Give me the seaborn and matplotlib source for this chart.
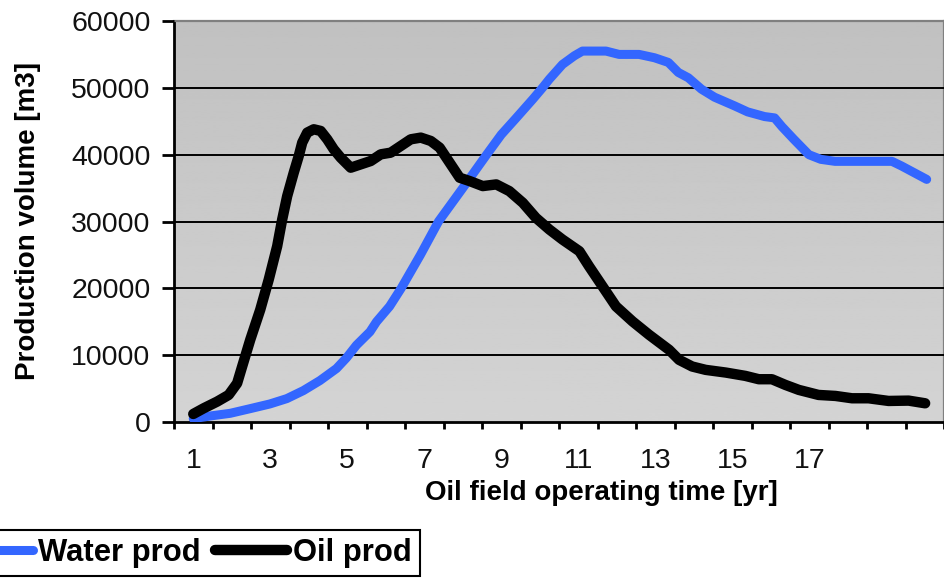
import numpy as np
import pandas as pd
import matplotlib
matplotlib.use("Agg")
import matplotlib.pyplot as plt
import seaborn as sns
from matplotlib.lines import Line2D

# ---------------- data ----------------
water_years = [1.0, 1.44, 1.96, 2.48, 2.99, 3.43, 3.86, 4.29, 4.72, 4.98, 5.24, 5.59, 5.76,
               6.10, 6.40, 6.90, 7.37, 8.00, 8.62, 9.00, 9.39, 9.82, 10.07, 10.25, 10.59,
               10.90, 11.11, 11.72, 12.06, 12.58, 12.98, 13.34, 13.60, 13.86, 14.20, 14.54,
               15.06, 15.40, 15.84, 16.10, 16.29, 16.60, 16.99, 17.30, 17.67, 19.15, 19.40,
               20.05]
water_prod = [500, 900, 1300, 2000, 2700, 3500, 4700, 6200, 8000, 9600, 11500, 13500, 15000,
              17300, 20000, 25000, 30000, 35000, 40000, 43000, 45500, 48300, 50000, 51300, 53500,
              54800, 55500, 55500, 55000, 55000, 54500, 53800, 52300, 51500, 49800, 48600,
              47300, 46400, 45700, 45500, 44200, 42300, 40000, 39300, 39000, 39000, 38300,
              36300]

oil_years = [1.0, 1.27, 1.62, 1.92, 2.14, 2.27, 2.48, 2.74, 2.96, 3.18, 3.31, 3.44, 3.61,
             3.74, 3.83, 3.96, 4.13, 4.31, 4.48, 4.65, 4.83, 5.09, 5.35, 5.61, 5.87, 6.13,
             6.39, 6.65, 6.91, 7.17, 7.40, 7.66, 7.92, 8.18, 8.52, 8.87, 9.21, 9.56, 9.90,
             10.25, 10.59, 11.03, 11.28, 11.63, 11.98, 12.41, 12.84, 13.36, 13.62, 13.96,
             14.31, 14.83, 15.34, 15.69, 16.03, 16.38, 16.73, 17.24, 17.68, 18.11, 18.54,
             19.06, 19.58, 20.01]
oil_prod = [1200, 2050, 3050, 4050, 5800, 8300, 12300, 16800, 21300, 26300, 30300, 33800, 37300,
            39800, 41800, 43300, 43800, 43550, 42300, 40800, 39550, 38050, 38550, 39050, 40050, 40300,
            41300, 42300, 42550, 42050, 41050, 38800, 36550, 36050, 35300, 35550, 34550, 32800, 30550,
            28800, 27300, 25550, 23300, 20300, 17300, 15050, 13050, 10800, 9300, 8300,
            7800, 7400, 6900, 6400, 6400, 5550, 4800, 4050, 3900, 3550, 3550,
            3150, 3200, 2800]

year_labels = [1, 3, 5, 7, 9, 11, 13, 15, 17]
y_ticks = [0, 10000, 20000, 30000, 40000, 50000, 60000]
series_names = ["Water prod", "Oil prod"]
series_colors = ["#3366ff", "#000000"]

# ---------------- style ----------------
sns.set_theme(style="white")
plt.rcParams["font.family"] = ["Liberation Sans", "DejaVu Sans"]
plt.rcParams["text.color"] = "black"
plt.rcParams["axes.labelcolor"] = "black"
plt.rcParams["xtick.color"] = "black"
plt.rcParams["ytick.color"] = "black"

W, H = 945, 579
fig = plt.figure(figsize=(W / 100, H / 100), dpi=100)
ax = fig.add_axes([174 / W, 1 - 422 / H, 770 / W, 401 / H])

# gradient background of plot area
grad = np.linspace(0.755, 0.83, 256).reshape(-1, 1)
ax.imshow(grad, cmap="gray", vmin=0, vmax=1, aspect="auto", origin="upper",
          extent=[0, 1, 0, 1], transform=ax.transAxes, zorder=0)

df = pd.concat([
    pd.DataFrame({"year": water_years, "volume": water_prod, "series": series_names[0]}),
    pd.DataFrame({"year": oil_years, "volume": oil_prod, "series": series_names[1]}),
])

lws = [6.5, 7.5]
sns.lineplot(data=df[df.series == series_names[0]], x="year", y="volume", ax=ax,
             color=series_colors[0], lw=lws[0], sort=False, estimator=None,
             solid_capstyle="round", solid_joinstyle="round", zorder=3, legend=False)
sns.lineplot(data=df[df.series == series_names[1]], x="year", y="volume", ax=ax,
             color=series_colors[1], lw=lws[1], sort=False, estimator=None,
             solid_capstyle="round", solid_joinstyle="round", zorder=4, legend=False)

ax.set_xlim(0.5, 20.45)
ax.set_ylim(0, 60000)

# y axis
ax.set_yticks(y_ticks)
ax.set_yticklabels([str(v) for v in y_ticks])
ax.tick_params(axis="y", which="major", direction="out", length=8.5, width=2.0,
               color="black", pad=8.4, labelsize=20.5, left=True, labelcolor="#111111")
ax.yaxis.grid(True, color="black", lw=1.4)
gl = ax.get_ygridlines()
gl[0].set_visible(False)
gl[-1].set_visible(False)
ax.set_axisbelow(False)
for g in gl:
    g.set_zorder(1)

# x axis: boundary ticks (no labels) + centered labels
bounds = np.arange(0.5, 21.0, 1.0)
ax.set_xticks(bounds)
ax.set_xticklabels([""] * len(bounds))
ax.tick_params(axis="x", which="major", direction="out", length=5, width=2.0,
               color="black", bottom=True)
ax.set_xticks(year_labels, minor=True)
ax.set_xticklabels([str(v) for v in year_labels], minor=True)
ax.tick_params(axis="x", which="minor", length=0, pad=19, labelsize=20.5, labelcolor="#111111")

for side in ["left", "bottom"]:
    ax.spines[side].set_color("black")
    ax.spines[side].set_linewidth(2.0)
for side in ["top", "right"]:
    ax.spines[side].set_color("#808080")
    ax.spines[side].set_linewidth(1.6)
    ax.spines[side].set_visible(True)

ax.set_xlabel("Oil field operating time [yr]", fontsize=20, fontweight="bold")
ax.xaxis.set_label_coords((601 - 174) / 770, -0.145)
ax.set_ylabel("Production volume [m3]", fontsize=20, fontweight="bold")
ax.yaxis.label.set_va("center")
ax.yaxis.set_label_coords((28 - 174) / 770, 0.5)

handles = [Line2D([], [], color=series_colors[0], lw=lws[0], solid_capstyle="round"),
           Line2D([], [], color=series_colors[1], lw=lws[1], solid_capstyle="round")]
leg = fig.legend(handles, series_names, loc="upper left",
                 bbox_to_anchor=(-48 / W, 1 - 530 / H), ncol=2, frameon=True,
                 fancybox=False, shadow=False, borderaxespad=0, borderpad=0.26,
                 handlelength=2.35, handletextpad=0.17, columnspacing=0.45,
                 prop={"size": 22.3, "weight": "bold"})
leg.get_frame().set_edgecolor("black")
leg.get_frame().set_linewidth(1.5)
leg.get_frame().set_facecolor("white")
leg.get_frame().set_alpha(1)

fig.savefig("out.png", dpi=100)
